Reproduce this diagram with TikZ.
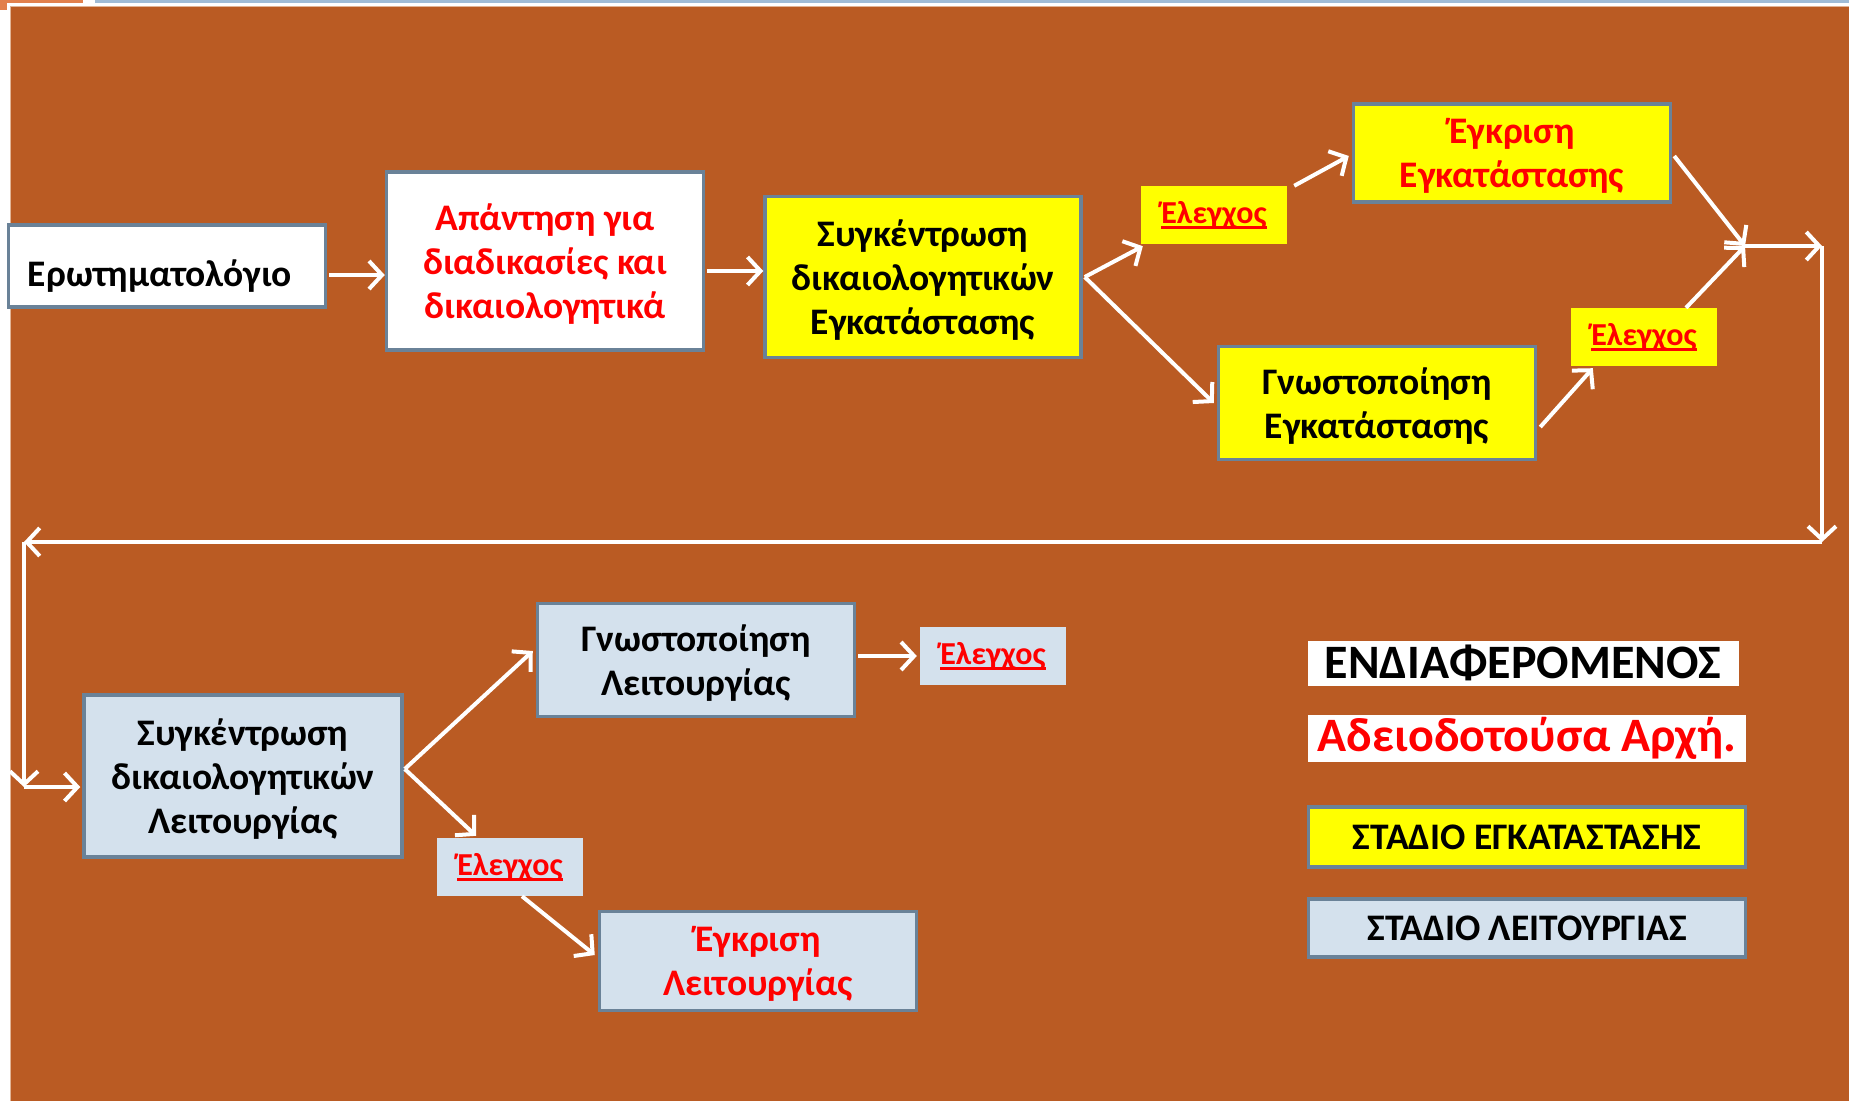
\documentclass[tikz,border=0pt]{standalone}
\usepackage{fontspec}
\setmainfont{Carlito}
\newcommand\myul[1]{\setbox0\hbox{#1}\rlap{\raisebox{-6pt}{\rule{\wd0}{2.8pt}}}\box0}
\usetikzlibrary{arrows.meta}
\definecolor{bg}{RGB}{186,91,35}
\definecolor{bord}{RGB}{106,130,152}
\definecolor{yel}{RGB}{255,255,0}
\definecolor{lblue}{RGB}{212,225,237}
\definecolor{topor}{RGB}{226,128,76}
\definecolor{topbl}{RGB}{160,188,214}
\definecolor{edge}{RGB}{225,180,150}
\begin{document}
\begin{tikzpicture}[x=1pt,y=-1pt,
  box/.style={draw=bord, line width=3.5pt, align=center, inner sep=0pt, font=\fontsize{37.5}{44}\selectfont\bfseries},
  mbox/.style={box, text depth=0pt},
  ybox/.style={mbox, fill=yel},
  bbox/.style={mbox, fill=lblue},
  wbox/.style={mbox, fill=white},
  chk/.style={inner sep=0pt, minimum width=146pt, minimum height=58pt, font=\fontsize{32}{36}\selectfont\bfseries, text=red},
  legw/.style={fill=white, inner sep=0pt, font=\fontsize{48}{52}\selectfont\bfseries},
  legs/.style={box, font=\fontsize{37.5}{40}\selectfont\bfseries, minimum width=437pt},
  arr/.style={draw=white, line width=4pt, -{Straight Barb[length=13pt,width=28pt]}}
]
\useasboundingbox (0,0) rectangle (1849,1101);
\fill[white] (0,0) rectangle (1849,1101);
\fill[topor] (0,0) rectangle (83,3);
\fill[topor] (0,0) rectangle (7,10);
\fill[topbl] (95,0) rectangle (1849,3);
\fill[bg] (10,6) rectangle (1849,1101);
\draw[edge, line width=0.8pt] (10.4,1101) -- (10.4,6.4) -- (1849,6.4);

% top row
\node[box, fill=white, minimum width=317pt, minimum height=82pt] (q) at (167,266) {\rule[-8pt]{0pt}{35pt}\hspace*{-14pt}\raisebox{-11pt}[0pt][0pt]{Ερωτηματολόγιο}};
\node[wbox, minimum width=317pt, minimum height=178pt, text=red] (ans) at (545,261) {Απάντηση για\\διαδικασίες και\\δικαιολογητικά};
\node[ybox, minimum width=316pt, minimum height=161pt] (se) at (923,277) {Συγκέντρωση\\δικαιολογητικών\\Εγκατάστασης};
\node[chk, fill=yel] (c1) at (1214,215) {\myul{Έλεγχος}};
\node[ybox, minimum width=317pt, minimum height=98pt, text=red] (ae) at (1512,153) {Έγκριση\\Εγκατάστασης};
\node[ybox, minimum width=317pt, minimum height=113pt] (ge) at (1377,403) {Γνωστοποίηση\\Εγκατάστασης};
\node[chk, fill=yel] (c2) at (1644,337) {\myul{Έλεγχος}};

% bottom row
\node[bbox, minimum width=318pt, minimum height=162pt] (sl) at (243,776) {Συγκέντρωση\\δικαιολογητικών\\Λειτουργίας};
\node[bbox, minimum width=317pt, minimum height=113pt] (gl) at (696,660) {Γνωστοποίηση\\Λειτουργίας};
\node[chk, fill=lblue] (c3) at (993,656) {\myul{Έλεγχος}};
\node[chk, fill=lblue] (c4) at (510,867) {\myul{Έλεγχος}};
\node[bbox, minimum width=317pt, minimum height=99pt, text=red] (al) at (758,961) {Έγκριση\\Λειτουργίας};

% legend
\node[legw, minimum width=431pt, minimum height=45pt] (l1) at (1523,663) {ΕΝΔΙΑΦΕΡΟΜΕΝΟΣ};
\node[legw, minimum width=438pt, minimum height=47pt, text=red] (l2) at (1527,738) {Αδειοδοτούσα Αρχή.};
\node[legs, fill=yel, minimum height=60pt] (l3) at (1527,837) {ΣΤΑΔΙΟ ΕΓΚΑΤΑΣΤΑΣΗΣ};
\node[legs, fill=lblue, minimum height=58pt] (l4) at (1527,928) {ΣΤΑΔΙΟ ΛΕΙΤΟΥΡΓΙΑΣ};

% route coordinates
\coordinate (m) at (1745,246);
\coordinate (k1) at (1822,246);
\coordinate (k2) at (1822,542);
\coordinate (k3) at (24,542);
\coordinate (k4) at (24,787);

% connectors
\draw[arr] ([xshift=2pt,yshift=-9pt]q.east) -- ([yshift=-9pt]q.east -| ans.west);
\draw[arr] ([xshift=2pt,yshift=-10pt]ans.east) -- ([yshift=-10pt]ans.east -| se.west);
\draw[arr] ([xshift=2pt]se.east) -- ([xshift=2pt,yshift=-2pt]c1.south west);
\draw[arr] ([xshift=2pt]se.east) -- ([xshift=-3pt]ge.west);
\draw[arr] ([xshift=7pt,yshift=0pt]c1.north east) -- ([xshift=-3pt,yshift=-3pt]ae.west);
\draw[arr] ([xshift=3pt,yshift=-24pt]ge.east) -- ([xshift=22pt,yshift=-2pt]c2.south west);
\draw[arr] ([xshift=2pt,yshift=-3pt]ae.east) -- (m);
\draw[arr] ([xshift=42pt]c2.north) -- (m);
\draw[arr] (m) -- (k1);
\draw[arr] (k1) -- (k2);
\draw[arr] (k2) -- (k3);
\draw[arr] (k3) -- (k4);
\draw[arr] (k4) -- ([xshift=-2pt]k4 -| sl.west);
\draw[arr] ([xshift=1pt,yshift=7pt]sl.east) -- ([xshift=-3pt,yshift=9pt]gl.west);
\draw[arr] ([xshift=1pt,yshift=7pt]sl.east) -- ([xshift=-34pt,yshift=2pt]c4.north);
\draw[arr] ([xshift=12pt]c4.south) -- ([xshift=-3pt,yshift=6pt]al.west);
\draw[arr] ([xshift=2pt,yshift=4pt]gl.east) -- ([xshift=-3pt,yshift=4pt]gl.east -| c3.west);
\end{tikzpicture}
\end{document}
